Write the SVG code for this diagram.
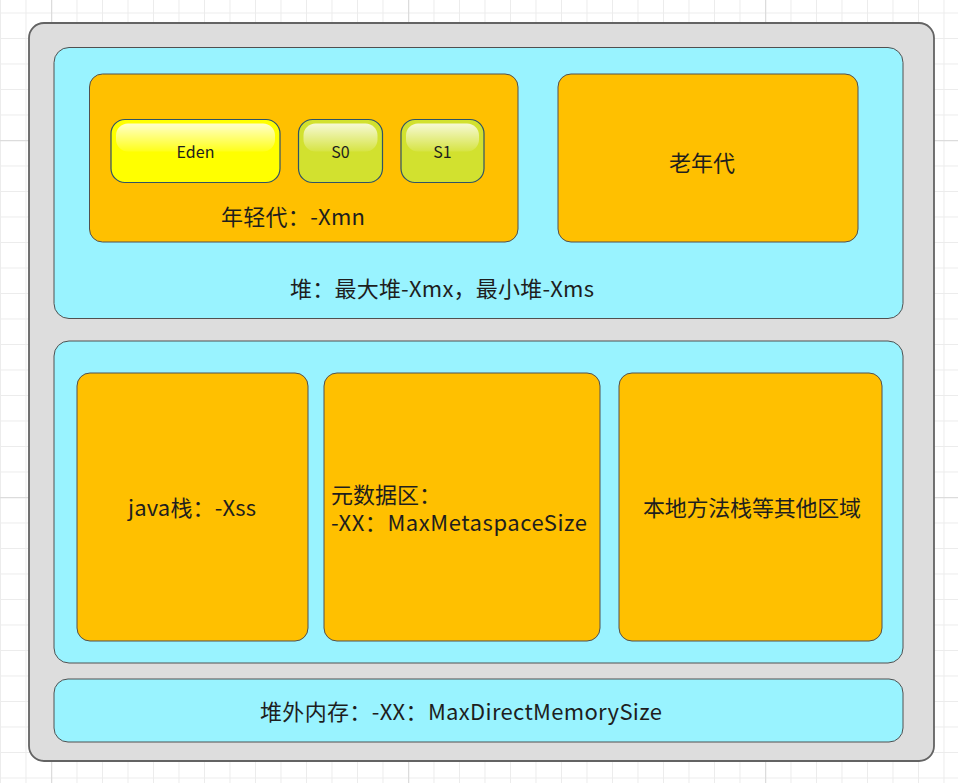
<svg xmlns="http://www.w3.org/2000/svg" width="958" height="783" viewBox="0 0 958 783">
<style>
.t{font-family:"Noto Sans CJK SC","Noto Sans",sans-serif;fill:#1e1e1e;}
.big{font-size:22px;}
.sm{font-size:16px;}
.cyan{fill:#99f3ff;stroke:#505050;stroke-width:1;}
.org{fill:#ffc000;stroke:#505050;stroke-width:1;}
.glossy{stroke:#2f5366;stroke-width:1.2;}
</style>
<defs>
<pattern id="minor" patternUnits="userSpaceOnUse" x="0" y="12.5" width="25.5" height="25.5">
<path d="M0.5 0V25.5M0 0.5H25.5" stroke="#ececec" stroke-width="1" fill="none"/>
</pattern>
<pattern id="major" patternUnits="userSpaceOnUse" x="51" y="140" width="357" height="357">
<path d="M0.5 0V357M0 0.5H357" stroke="#dcdcdc" stroke-width="1.5" fill="none"/>
</pattern>
<linearGradient id="gloss" x1="0" y1="0" x2="0" y2="1">
<stop offset="0" stop-color="#ffffff" stop-opacity="0.8"/>
<stop offset="1" stop-color="#ffffff" stop-opacity="0.1"/>
</linearGradient>
</defs>
<rect x="0" y="0" width="958" height="783" fill="#ffffff"/>
<rect x="0" y="0" width="958" height="783" fill="url(#minor)"/>
<rect x="0" y="0" width="958" height="783" fill="url(#major)"/>

<g id="outer">
<rect x="29" y="23" width="905" height="738" rx="15" fill="#dddddd" stroke="#636363" stroke-width="1.8"/>
</g>

<g id="heap">
<rect class="cyan" x="54" y="47.5" width="849" height="271" rx="15"/>
<text class="t big" x="290" y="297" textLength="304" lengthAdjust="spacing">堆：最大堆-Xmx，最小堆-Xms</text>
</g>

<g id="young">
<rect class="org" x="89.5" y="74" width="428.5" height="168" rx="13"/>
<text class="t big" x="221" y="225" textLength="144" lengthAdjust="spacing">年轻代：-Xmn</text>
</g>

<g id="eden">
<rect class="glossy" x="111" y="119.5" width="169" height="63" rx="14" fill="#ffff00"/>
<rect x="116" y="123.5" width="159" height="28" rx="12" fill="url(#gloss)"/>
<text class="t sm" x="195.5" y="158" text-anchor="middle">Eden</text>
</g>

<g id="s0">
<rect class="glossy" x="298.5" y="119.5" width="84" height="63" rx="14" fill="#d2e12f"/>
<rect x="303.5" y="123.5" width="74" height="28" rx="12" fill="url(#gloss)"/>
<text class="t sm" x="340.5" y="158" text-anchor="middle">S0</text>
</g>

<g id="s1">
<rect class="glossy" x="401" y="119.5" width="83" height="63" rx="14" fill="#d2e12f"/>
<rect x="406" y="123.5" width="73" height="28" rx="12" fill="url(#gloss)"/>
<text class="t sm" x="442.5" y="158" text-anchor="middle">S1</text>
</g>

<g id="old">
<rect class="org" x="558" y="74" width="300" height="168" rx="13"/>
<text class="t big" x="702" y="171" text-anchor="middle">老年代</text>
</g>

<g id="nonheap">
<rect class="cyan" x="54" y="341" width="849" height="322" rx="15"/>
</g>

<g id="javastack">
<rect class="org" x="77" y="373" width="231" height="268" rx="13"/>
<text class="t big" x="128" y="516" textLength="128" lengthAdjust="spacing">java栈：-Xss</text>
</g>

<g id="metaspace">
<rect class="org" x="324" y="373" width="276" height="268" rx="13"/>
<text class="t big" x="331" y="503">元数据区：</text>
<text class="t big" x="331" y="531" textLength="256" lengthAdjust="spacing">-XX：MaxMetaspaceSize</text>
</g>

<g id="native">
<rect class="org" x="619" y="373" width="263" height="268" rx="13"/>
<text class="t big" x="643" y="516" textLength="218" lengthAdjust="spacing">本地方法栈等其他区域</text>
</g>

<g id="direct">
<rect class="cyan" x="54" y="679" width="849" height="63" rx="14"/>
<text class="t big" x="260" y="720" textLength="402" lengthAdjust="spacing">堆外内存：-XX：MaxDirectMemorySize</text>
</g>

<g id="connectors"></g>
</svg>
